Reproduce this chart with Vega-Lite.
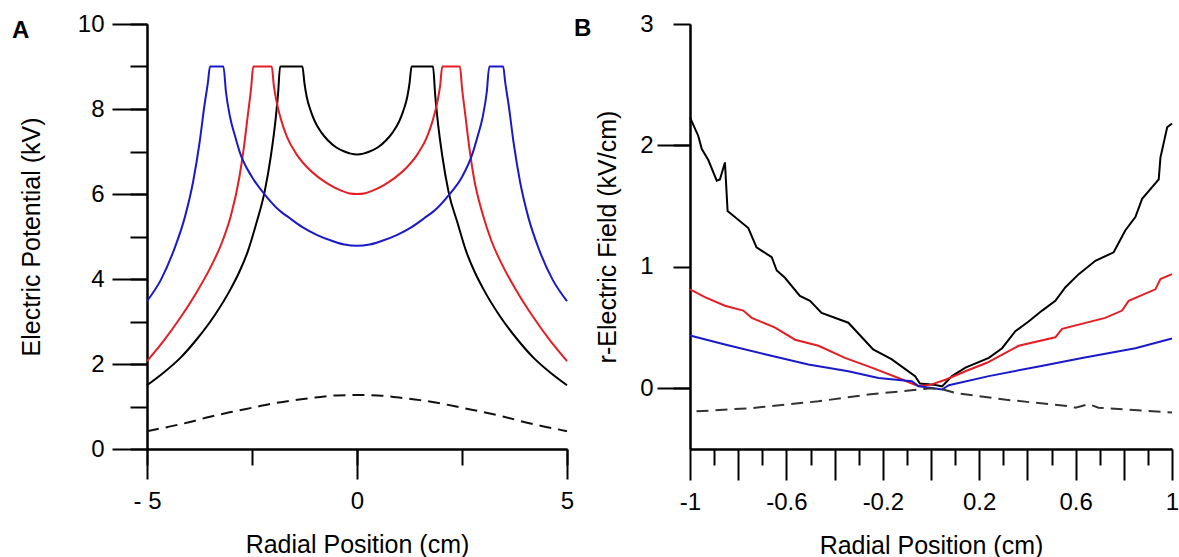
{
  "$schema": "https://vega.github.io/schema/vega-lite/v6.json",
  "padding": {"left": 12, "top": 12, "right": 0, "bottom": 0},
  "spacing": 0,
  "config": {
    "view": {"stroke": null},
    "axis": {
      "grid": false, "domainColor": "#000", "domainWidth": 2, "tickColor": "#000", "tickWidth": 2,
      "labelFont": "Liberation Sans", "labelFontSize": 24, "labelColor": "#000",
      "titleFont": "Liberation Sans", "titleFontSize": 25, "titleFontWeight": "normal", "titleColor": "#000",
      "labelFlush": false, "labelOverlap": false, "labelBound": false
    }
  },
  "datasets": {
    "potential": [
      {"series": "Black", "r": -5, "v": 1.5}, {"series": "Black", "r": -4.6, "v": 1.8}, {"series": "Black", "r": -4.2, "v": 2.15}, {"series": "Black", "r": -3.8, "v": 2.6}, {"series": "Black", "r": -3.4, "v": 3.13}, {"series": "Black", "r": -3.0, "v": 3.78}, {"series": "Black", "r": -2.8, "v": 4.17}, {"series": "Black", "r": -2.6, "v": 4.65}, {"series": "Black", "r": -2.4, "v": 5.3}, {"series": "Black", "r": -2.2, "v": 6.05}, {"series": "Black", "r": -2.05, "v": 6.9}, {"series": "Black", "r": -1.95, "v": 7.65}, {"series": "Black", "r": -1.88, "v": 8.35}, {"series": "Black", "r": -1.83, "v": 9}, {"series": "Black", "r": -1.3, "v": 9}, {"series": "Black", "r": -1.25, "v": 8.6}, {"series": "Black", "r": -1.2, "v": 8.3}, {"series": "Black", "r": -1.1, "v": 7.95}, {"series": "Black", "r": -1.0, "v": 7.7}, {"series": "Black", "r": -0.85, "v": 7.45}, {"series": "Black", "r": -0.7, "v": 7.27}, {"series": "Black", "r": -0.5, "v": 7.1}, {"series": "Black", "r": -0.3, "v": 7.0}, {"series": "Black", "r": -0.15, "v": 6.95}, {"series": "Black", "r": 0, "v": 6.93},
      {"series": "Black", "r": 0.15, "v": 6.95}, {"series": "Black", "r": 0.3, "v": 7.0}, {"series": "Black", "r": 0.5, "v": 7.1}, {"series": "Black", "r": 0.7, "v": 7.27}, {"series": "Black", "r": 0.85, "v": 7.45}, {"series": "Black", "r": 1.0, "v": 7.7}, {"series": "Black", "r": 1.1, "v": 7.95}, {"series": "Black", "r": 1.2, "v": 8.3}, {"series": "Black", "r": 1.25, "v": 8.6}, {"series": "Black", "r": 1.3, "v": 9}, {"series": "Black", "r": 1.81, "v": 9}, {"series": "Black", "r": 1.86, "v": 8.35}, {"series": "Black", "r": 1.93, "v": 7.65}, {"series": "Black", "r": 2.03, "v": 6.9}, {"series": "Black", "r": 2.18, "v": 6.05}, {"series": "Black", "r": 2.4, "v": 5.3}, {"series": "Black", "r": 2.6, "v": 4.65}, {"series": "Black", "r": 2.8, "v": 4.17}, {"series": "Black", "r": 3.0, "v": 3.78}, {"series": "Black", "r": 3.4, "v": 3.13}, {"series": "Black", "r": 3.8, "v": 2.6}, {"series": "Black", "r": 4.2, "v": 2.15}, {"series": "Black", "r": 4.6, "v": 1.8}, {"series": "Black", "r": 5, "v": 1.5},
      {"series": "Red", "r": -5, "v": 2.07}, {"series": "Red", "r": -4.6, "v": 2.55}, {"series": "Red", "r": -4.2, "v": 3.1}, {"series": "Red", "r": -3.8, "v": 3.72}, {"series": "Red", "r": -3.5, "v": 4.25}, {"series": "Red", "r": -3.2, "v": 4.9}, {"series": "Red", "r": -3.0, "v": 5.5}, {"series": "Red", "r": -2.8, "v": 6.4}, {"series": "Red", "r": -2.7, "v": 7.05}, {"series": "Red", "r": -2.6, "v": 7.85}, {"series": "Red", "r": -2.52, "v": 8.5}, {"series": "Red", "r": -2.47, "v": 9}, {"series": "Red", "r": -2.03, "v": 9}, {"series": "Red", "r": -1.98, "v": 8.55}, {"series": "Red", "r": -1.91, "v": 8.15}, {"series": "Red", "r": -1.8, "v": 7.72}, {"series": "Red", "r": -1.67, "v": 7.35}, {"series": "Red", "r": -1.45, "v": 6.95}, {"series": "Red", "r": -1.2, "v": 6.64}, {"series": "Red", "r": -0.9, "v": 6.38}, {"series": "Red", "r": -0.64, "v": 6.21}, {"series": "Red", "r": -0.4, "v": 6.09}, {"series": "Red", "r": -0.2, "v": 6.02}, {"series": "Red", "r": 0, "v": 6.0},
      {"series": "Red", "r": 0.2, "v": 6.02}, {"series": "Red", "r": 0.4, "v": 6.09}, {"series": "Red", "r": 0.64, "v": 6.21}, {"series": "Red", "r": 0.9, "v": 6.38}, {"series": "Red", "r": 1.2, "v": 6.64}, {"series": "Red", "r": 1.45, "v": 6.95}, {"series": "Red", "r": 1.67, "v": 7.35}, {"series": "Red", "r": 1.8, "v": 7.72}, {"series": "Red", "r": 1.91, "v": 8.15}, {"series": "Red", "r": 1.98, "v": 8.55}, {"series": "Red", "r": 2.03, "v": 9}, {"series": "Red", "r": 2.45, "v": 9}, {"series": "Red", "r": 2.5, "v": 8.5}, {"series": "Red", "r": 2.58, "v": 7.85}, {"series": "Red", "r": 2.68, "v": 7.05}, {"series": "Red", "r": 2.78, "v": 6.4}, {"series": "Red", "r": 3.0, "v": 5.5}, {"series": "Red", "r": 3.2, "v": 4.9}, {"series": "Red", "r": 3.5, "v": 4.25}, {"series": "Red", "r": 3.8, "v": 3.72}, {"series": "Red", "r": 4.2, "v": 3.1}, {"series": "Red", "r": 4.6, "v": 2.55}, {"series": "Red", "r": 5, "v": 2.07},
      {"series": "Blue", "r": -5, "v": 3.48}, {"series": "Blue", "r": -4.67, "v": 3.98}, {"series": "Blue", "r": -4.36, "v": 4.68}, {"series": "Blue", "r": -4.1, "v": 5.45}, {"series": "Blue", "r": -3.9, "v": 6.3}, {"series": "Blue", "r": -3.75, "v": 7.2}, {"series": "Blue", "r": -3.63, "v": 8.1}, {"series": "Blue", "r": -3.55, "v": 8.62}, {"series": "Blue", "r": -3.5, "v": 9}, {"series": "Blue", "r": -3.18, "v": 9}, {"series": "Blue", "r": -3.12, "v": 8.4}, {"series": "Blue", "r": -3.02, "v": 7.8}, {"series": "Blue", "r": -2.9, "v": 7.35}, {"series": "Blue", "r": -2.79, "v": 6.98}, {"series": "Blue", "r": -2.5, "v": 6.4}, {"series": "Blue", "r": -2.19, "v": 5.98}, {"series": "Blue", "r": -1.9, "v": 5.66}, {"series": "Blue", "r": -1.6, "v": 5.43}, {"series": "Blue", "r": -1.3, "v": 5.22}, {"series": "Blue", "r": -0.96, "v": 5.04}, {"series": "Blue", "r": -0.6, "v": 4.9}, {"series": "Blue", "r": -0.3, "v": 4.81}, {"series": "Blue", "r": 0, "v": 4.78},
      {"series": "Blue", "r": 0.3, "v": 4.81}, {"series": "Blue", "r": 0.6, "v": 4.9}, {"series": "Blue", "r": 0.96, "v": 5.04}, {"series": "Blue", "r": 1.3, "v": 5.22}, {"series": "Blue", "r": 1.6, "v": 5.43}, {"series": "Blue", "r": 1.9, "v": 5.66}, {"series": "Blue", "r": 2.19, "v": 5.98}, {"series": "Blue", "r": 2.5, "v": 6.4}, {"series": "Blue", "r": 2.76, "v": 6.98}, {"series": "Blue", "r": 2.87, "v": 7.35}, {"series": "Blue", "r": 2.99, "v": 7.8}, {"series": "Blue", "r": 3.09, "v": 8.4}, {"series": "Blue", "r": 3.15, "v": 9}, {"series": "Blue", "r": 3.48, "v": 9}, {"series": "Blue", "r": 3.53, "v": 8.62}, {"series": "Blue", "r": 3.61, "v": 8.1}, {"series": "Blue", "r": 3.73, "v": 7.2}, {"series": "Blue", "r": 3.88, "v": 6.3}, {"series": "Blue", "r": 4.08, "v": 5.45}, {"series": "Blue", "r": 4.34, "v": 4.68}, {"series": "Blue", "r": 4.66, "v": 3.98}, {"series": "Blue", "r": 5, "v": 3.48},
      {"series": "Dashed", "r": -5, "v": 0.42}, {"series": "Dashed", "r": -4.5, "v": 0.52}, {"series": "Dashed", "r": -4, "v": 0.63}, {"series": "Dashed", "r": -3.5, "v": 0.76}, {"series": "Dashed", "r": -3, "v": 0.87}, {"series": "Dashed", "r": -2.5, "v": 0.97}, {"series": "Dashed", "r": -2, "v": 1.07}, {"series": "Dashed", "r": -1.5, "v": 1.15}, {"series": "Dashed", "r": -1, "v": 1.21}, {"series": "Dashed", "r": -0.5, "v": 1.26}, {"series": "Dashed", "r": 0, "v": 1.27}, {"series": "Dashed", "r": 0.5, "v": 1.26}, {"series": "Dashed", "r": 1, "v": 1.21}, {"series": "Dashed", "r": 1.5, "v": 1.15}, {"series": "Dashed", "r": 2, "v": 1.07}, {"series": "Dashed", "r": 2.5, "v": 0.97}, {"series": "Dashed", "r": 3, "v": 0.87}, {"series": "Dashed", "r": 3.5, "v": 0.76}, {"series": "Dashed", "r": 4, "v": 0.63}, {"series": "Dashed", "r": 4.5, "v": 0.52}, {"series": "Dashed", "r": 5, "v": 0.42}
    ],
    "field": [
      {"series": "Black", "r": -1, "e": 2.23}, {"series": "Black", "r": -0.966, "e": 2.08}, {"series": "Black", "r": -0.951, "e": 1.97}, {"series": "Black", "r": -0.924, "e": 1.88}, {"series": "Black", "r": -0.889, "e": 1.71}, {"series": "Black", "r": -0.876, "e": 1.72}, {"series": "Black", "r": -0.855, "e": 1.86}, {"series": "Black", "r": -0.844, "e": 1.46}, {"series": "Black", "r": -0.758, "e": 1.32}, {"series": "Black", "r": -0.724, "e": 1.16}, {"series": "Black", "r": -0.661, "e": 1.08}, {"series": "Black", "r": -0.64, "e": 0.97}, {"series": "Black", "r": -0.606, "e": 0.91}, {"series": "Black", "r": -0.544, "e": 0.76}, {"series": "Black", "r": -0.502, "e": 0.72}, {"series": "Black", "r": -0.454, "e": 0.62}, {"series": "Black", "r": -0.343, "e": 0.54}, {"series": "Black", "r": -0.24, "e": 0.32}, {"series": "Black", "r": -0.164, "e": 0.24}, {"series": "Black", "r": -0.066, "e": 0.1}, {"series": "Black", "r": -0.046, "e": 0.04}, {"series": "Black", "r": 0.01, "e": 0.03}, {"series": "Black", "r": 0.046, "e": 0.016}, {"series": "Black", "r": 0.087, "e": 0.1}, {"series": "Black", "r": 0.143, "e": 0.17}, {"series": "Black", "r": 0.24, "e": 0.25}, {"series": "Black", "r": 0.295, "e": 0.33}, {"series": "Black", "r": 0.35, "e": 0.47}, {"series": "Black", "r": 0.405, "e": 0.55}, {"series": "Black", "r": 0.461, "e": 0.64}, {"series": "Black", "r": 0.516, "e": 0.72}, {"series": "Black", "r": 0.557, "e": 0.83}, {"series": "Black", "r": 0.613, "e": 0.94}, {"series": "Black", "r": 0.682, "e": 1.05}, {"series": "Black", "r": 0.758, "e": 1.12}, {"series": "Black", "r": 0.806, "e": 1.3}, {"series": "Black", "r": 0.848, "e": 1.41}, {"series": "Black", "r": 0.876, "e": 1.56}, {"series": "Black", "r": 0.945, "e": 1.72}, {"series": "Black", "r": 0.952, "e": 1.9}, {"series": "Black", "r": 0.98, "e": 2.15}, {"series": "Black", "r": 1.0, "e": 2.18},
      {"series": "Red", "r": -1, "e": 0.815}, {"series": "Red", "r": -0.938, "e": 0.75}, {"series": "Red", "r": -0.855, "e": 0.68}, {"series": "Red", "r": -0.779, "e": 0.64}, {"series": "Red", "r": -0.744, "e": 0.58}, {"series": "Red", "r": -0.647, "e": 0.5}, {"series": "Red", "r": -0.564, "e": 0.4}, {"series": "Red", "r": -0.467, "e": 0.35}, {"series": "Red", "r": -0.357, "e": 0.25}, {"series": "Red", "r": -0.246, "e": 0.17}, {"series": "Red", "r": -0.135, "e": 0.085}, {"series": "Red", "r": -0.052, "e": 0.016}, {"series": "Red", "r": 0.0, "e": 0.03}, {"series": "Red", "r": 0.06, "e": 0.07}, {"series": "Red", "r": 0.143, "e": 0.14}, {"series": "Red", "r": 0.232, "e": 0.21}, {"series": "Red", "r": 0.364, "e": 0.35}, {"series": "Red", "r": 0.516, "e": 0.42}, {"series": "Red", "r": 0.544, "e": 0.49}, {"series": "Red", "r": 0.723, "e": 0.58}, {"series": "Red", "r": 0.793, "e": 0.64}, {"series": "Red", "r": 0.82, "e": 0.72}, {"series": "Red", "r": 0.931, "e": 0.815}, {"series": "Red", "r": 0.952, "e": 0.9}, {"series": "Red", "r": 1.0, "e": 0.94},
      {"series": "Blue", "r": -1, "e": 0.435}, {"series": "Blue", "r": -0.855, "e": 0.36}, {"series": "Blue", "r": -0.689, "e": 0.28}, {"series": "Blue", "r": -0.509, "e": 0.196}, {"series": "Blue", "r": -0.343, "e": 0.14}, {"series": "Blue", "r": -0.218, "e": 0.085}, {"series": "Blue", "r": -0.08, "e": 0.058}, {"series": "Blue", "r": -0.05, "e": 0.016}, {"series": "Blue", "r": 0.01, "e": 0.0}, {"series": "Blue", "r": 0.046, "e": -0.01}, {"series": "Blue", "r": 0.074, "e": 0.025}, {"series": "Blue", "r": 0.24, "e": 0.1}, {"series": "Blue", "r": 0.447, "e": 0.18}, {"series": "Blue", "r": 0.627, "e": 0.25}, {"series": "Blue", "r": 0.848, "e": 0.33}, {"series": "Blue", "r": 1.0, "e": 0.41},
      {"series": "Dashed", "r": -0.973, "e": -0.19}, {"series": "Dashed", "r": -0.744, "e": -0.163}, {"series": "Dashed", "r": -0.467, "e": -0.107}, {"series": "Dashed", "r": -0.26, "e": -0.052}, {"series": "Dashed", "r": -0.052, "e": -0.01}, {"series": "Dashed", "r": 0.0, "e": 0.0}, {"series": "Dashed", "r": 0.05, "e": -0.01}, {"series": "Dashed", "r": 0.105, "e": -0.04}, {"series": "Dashed", "r": 0.312, "e": -0.094}, {"series": "Dashed", "r": 0.575, "e": -0.149}, {"series": "Dashed", "r": 0.6, "e": -0.16}, {"series": "Dashed", "r": 0.654, "e": -0.13}, {"series": "Dashed", "r": 0.695, "e": -0.16}, {"series": "Dashed", "r": 1.0, "e": -0.2}
    ]
  },
  "hconcat": [
    {
      "width": 420, "height": 425,
      "title": {"text": "A", "anchor": "start", "frame": "group", "font": "Liberation Sans", "fontSize": 24, "fontWeight": "bold", "color": "#000", "dx": -135, "dy": 31, "offset": 0},
      "data": {"name": "potential"},
      "layer": [
        {
          "transform": [{"filter": "datum.series != 'Dashed'"}],
          "mark": {"type": "line", "strokeWidth": 2, "interpolate": "monotone"},
          "encoding": {
            "x": {"field": "r", "type": "quantitative", "scale": {"domain": [-5, 5], "nice": false, "zero": false},
                  "axis": {"orient": "bottom", "values": [-5, -2.5, 0, 2.5, 5], "tickSize": 16, "labels": false, "title": null}},
            "y": {"field": "v", "type": "quantitative", "scale": {"domain": [0, 10], "nice": false},
                  "axis": {"orient": "left", "values": [0, 1, 2, 3, 4, 5, 6, 7, 8, 9, 10], "tickSize": 17, "labels": false, "title": null}},
            "color": {"field": "series", "type": "nominal", "scale": {"domain": ["Black", "Red", "Blue"], "range": ["#000000", "#e31e24", "#1a1ac8"]}, "legend": null}
          }
        },
        {
          "transform": [{"filter": "datum.series == 'Dashed'"}],
          "mark": {"type": "line", "strokeWidth": 2, "strokeDash": [12, 7], "color": "#111111", "interpolate": "monotone"},
          "encoding": {
            "x": {"field": "r", "type": "quantitative",
                  "axis": {"orient": "bottom", "values": [-5, 0, 5], "tickSize": 30, "labelPadding": 10,
                           "labelExpr": "datum.value < 0 ? '- ' + format(abs(datum.value), 'd') : format(datum.value, 'd')",
                           "title": "Radial Position (cm)", "titlePadding": 19}},
            "y": {"field": "v", "type": "quantitative",
                  "axis": {"orient": "left", "values": [0, 2, 4, 6, 8, 10], "tickSize": 35, "labelPadding": 8,
                           "title": "Electric Potential (kV)", "titlePadding": 33}}
          }
        }
      ],
      "resolve": {"axis": {"x": "independent", "y": "independent"}}
    },
    {
      "width": 482, "height": 425,
      "title": {"text": "B", "anchor": "start", "frame": "group", "font": "Liberation Sans", "fontSize": 24, "fontWeight": "bold", "color": "#000", "dx": -116, "dy": 29, "offset": 0},
      "data": {"name": "field"},
      "layer": [
        {
          "transform": [{"filter": "datum.series != 'Dashed'"}],
          "mark": {"type": "line", "strokeWidth": 2},
          "encoding": {
            "x": {"field": "r", "type": "quantitative", "scale": {"domain": [-1, 1], "nice": false, "zero": false},
                  "axis": {"orient": "bottom", "values": [-0.9, -0.7, -0.5, -0.3, -0.1, 0.1, 0.3, 0.5, 0.7, 0.9], "tickSize": 16, "labels": false, "title": null}},
            "y": {"field": "e", "type": "quantitative", "scale": {"domain": [-0.5, 3], "nice": false, "zero": false},
                  "axis": {"orient": "left", "values": [0, 1, 2, 3], "tickSize": 17, "labelPadding": 20,
                           "title": "r-Electric Field (kV/cm)", "titlePadding": 19}},
            "color": {"field": "series", "type": "nominal", "scale": {"domain": ["Black", "Red", "Blue"], "range": ["#000000", "#e31e24", "#1a1ac8"]}, "legend": null}
          }
        },
        {
          "transform": [{"filter": "datum.series == 'Dashed'"}],
          "mark": {"type": "line", "strokeWidth": 2, "strokeDash": [12, 7], "color": "#333333"},
          "encoding": {
            "x": {"field": "r", "type": "quantitative",
                  "axis": {"orient": "bottom", "values": [-1, -0.8, -0.6, -0.4, -0.2, 0, 0.2, 0.4, 0.6, 0.8, 1], "tickSize": 31, "labelPadding": 10,
                           "labelExpr": "round(abs(datum.value * 10)) % 4 == 2 ? (datum.value < 0 ? '-' : '') + format(abs(datum.value), '~g') : ''",
                           "title": "Radial Position (cm)", "titlePadding": 19}},
            "y": {"field": "e", "type": "quantitative",
                  "axis": {"orient": "left", "values": [0, 2], "tickSize": 33, "labels": false, "title": null}}
          }
        }
      ],
      "resolve": {"axis": {"x": "independent", "y": "independent"}}
    }
  ]
}
